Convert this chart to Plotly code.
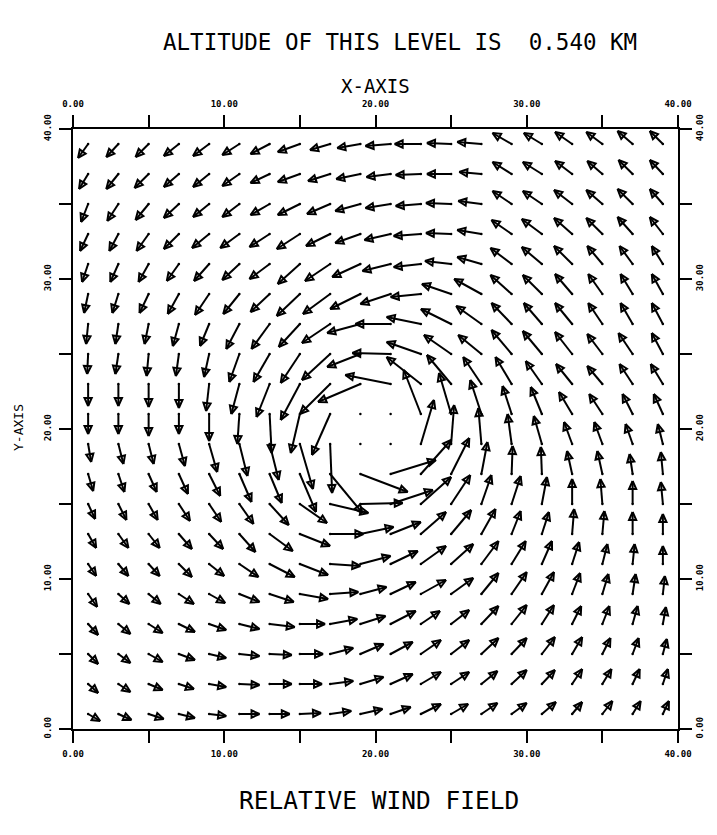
import plotly.graph_objects as go
import math

# ---------------- data ----------------
x_coords = list(range(1, 40, 2))          # grid columns (km)
y_coords = list(range(39, 0, -2))         # grid rows, top to bottom (km)

# u, v wind components (m/s), one list per row (top row first), columns left->right
U = [
    [-10,-12,-13,-15,-16,-17,-19,-22,-20,-23,-25,-26,-24,-24,-19,-18,-17,-16,-15,-13],
    [-9,-12,-14,-15,-16,-17,-19,-22,-22,-24,-24,-25,-24,-22,-19,-19,-17,-15,-14,-13],
    [-7,-11,-13,-15,-16,-17,-19,-22,-23,-25,-25,-25,-25,-23,-19,-19,-18,-16,-15,-13],
    [-8,-9,-12,-15,-17,-19,-20,-23,-24,-25,-26,-27,-25,-24,-20,-20,-18,-16,-15,-13],
    [-6,-8,-10,-12,-15,-17,-20,-22,-25,-28,-28,-27,-26,-24,-21,-20,-18,-15,-13,-11],
    [-4,-6,-9,-11,-14,-16,-19,-23,-27,-30,-30,-30,-29,-27,-21,-19,-17,-14,-12,-11],
    [-2,-3,-4,-6,-9,-13,-18,-21,-28,-33,-35,-34,-30,-25,-20,-18,-17,-14,-12,-11],
    [-1,-3,-2,-3,-5,-10,-16,-19,-28,-33,-38,-34,-27,-23,-20,-19,-17,-15,-14,-11],
    [0,0,0,0,-3,-8,-13,-19,-30,-42,-45,-34,-24,-18,-16,-16,-16,-15,-13,-12],
    [0,0,0,0,0,-2,2,-9,-18,0,0,-17,-12,-11,-9,-11,-13,-13,-10,-9],
    [3,5,5,6,8,8,9,13,2,0,0,13,3,-3,-4,-8,-8,-8,-7,-5],
    [5,6,8,9,11,12,12,16,32,47,45,30,18,6,1,-1,-5,-5,-3,-2],
    [7,8,9,11,12,14,19,27,38,42,42,30,19,10,9,5,0,-2,0,-2],
    [8,10,11,13,14,16,23,30,33,33,30,25,20,14,9,7,2,2,0,0],
    [8,10,11,13,15,19,25,28,30,30,27,25,22,17,14,10,7,5,2,0],
    [9,11,12,15,16,20,24,28,28,26,25,25,22,17,15,12,8,6,3,2],
    [10,12,14,16,17,20,25,25,27,25,25,19,18,17,15,12,9,7,5,3],
    [10,12,14,16,17,20,22,23,23,23,22,20,18,17,15,13,10,8,6,4],
    [10,12,14,15,17,20,22,22,23,23,22,20,18,16,15,13,10,9,7,5],
    [12,13,15,16,17,20,20,21,21,22,20,20,17,16,15,14,10,10,8,6],
]
V = [
    [-14,-13,-13,-12,-12,-11,-10,-8,-6,-4,-2,0,1,2,11,11,12,12,13,13],
    [-15,-15,-14,-13,-13,-12,-9,-8,-7,-5,-3,-1,0,2,12,12,13,13,14,14],
    [-18,-17,-16,-14,-13,-13,-11,-11,-10,-7,-4,-2,1,3,13,13,14,14,15,15],
    [-17,-17,-17,-15,-14,-14,-13,-15,-12,-9,-6,-2,1,4,14,15,16,16,17,17],
    [-18,-18,-18,-17,-17,-16,-15,-20,-17,-13,-7,-3,3,7,16,17,18,18,18,18],
    [-19,-19,-19,-20,-21,-20,-18,-22,-20,-15,-10,-3,10,15,19,19,20,20,20,20],
    [-20,-20,-20,-22,-22,-25,-25,-23,-19,-9,0,7,15,18,21,21,21,21,21,21],
    [-20,-20,-22,-22,-23,-28,-28,-29,-26,-13,1,12,19,19,24,23,22,20,21,21],
    [-22,-22,-23,-24,-27,-30,-33,-36,-30,-18,9,27,29,27,27,23,20,18,20,20],
    [-20,-20,-22,-20,-27,-30,-39,-39,-41,0,0,44,41,34,28,27,22,20,20,20],
    [-18,-20,-20,-22,-28,-32,-36,-45,-49,0,0,44,39,36,30,28,22,22,20,20],
    [-17,-18,-18,-20,-22,-28,-29,-38,-39,-18,14,34,36,32,28,27,23,23,20,22],
    [-15,-16,-16,-17,-18,-20,-21,-19,-9,1,14,27,29,29,28,27,25,25,23,22],
    [-14,-14,-14,-15,-15,-18,-17,-12,0,7,12,22,24,25,23,22,25,23,22,20],
    [-12,-12,-12,-13,-12,-13,-13,-11,-2,8,13,18,20,23,23,23,22,20,20,18],
    [-13,-10,-10,-10,-9,-8,-8,-5,2,7,12,14,16,21,22,22,21,20,20,18],
    [-11,-10,-9,-8,-6,-5,-3,0,5,8,13,13,14,18,19,19,18,18,18,17],
    [-10,-9,-8,-6,-4,-2,-1,0,6,10,12,14,14,16,16,17,17,16,16,15],
    [-9,-8,-6,-5,-3,-1,0,0,3,7,10,12,12,13,14,14,15,15,15,15],
    [-7,-6,-5,-4,-2,0,0,1,3,5,7,10,10,11,11,12,12,13,13,13],
]

tick_vals = [0, 5, 10, 15, 20, 25, 30, 35, 40]
tick_text = ["0.00", "", "10.00", "", "20.00", "", "30.00", "", "40.00"]

title_text = "ALTITUDE OF THIS LEVEL IS  0.540 KM"
x_title = "X-AXIS"
y_title = "Y-AXIS"
bottom_text = "RELATIVE WIND FIELD"

# ---------------- figure geometry (page has an 8px body margin) ----------------
W, H = 701, 819
ML, MT = 65, 121
PW, PH = 605, 600
MR = W - ML - PW
MB = H - MT - PH

VEC_SCALE = 1.0 / 15.0        # km of plot per m/s
PX_X = PW / 40.0              # pixels per km (x)
PX_Y = PH / 40.0              # pixels per km (y)
HEAD_LEN = 8.0                # px
HEAD_HALF = 3.6               # px

lx, ly = [], []
dot_x, dot_y = [], []
for r, yv in enumerate(y_coords):
    for c, xv in enumerate(x_coords):
        u, v = U[r][c], V[r][c]
        dot_x.append(xv); dot_y.append(yv)
        dxp = u * VEC_SCALE * PX_X
        dyp = v * VEC_SCALE * PX_Y
        L = math.hypot(dxp, dyp)
        if L == 0:
            continue
        x1 = xv + u * VEC_SCALE
        y1 = yv + v * VEC_SCALE
        lx += [xv, x1, None]; ly += [yv, y1, None]
        ux, uy = dxp / L, dyp / L
        nx, ny = -uy, ux
        hl = min(HEAD_LEN, 0.6 * L)
        bx = -ux * hl; by = -uy * hl
        p1 = (x1 + (bx + nx * HEAD_HALF) / PX_X, y1 + (by + ny * HEAD_HALF) / PX_Y)
        p2 = (x1 + (bx - nx * HEAD_HALF) / PX_X, y1 + (by - ny * HEAD_HALF) / PX_Y)
        lx += [x1, p1[0], p2[0], x1, None]
        ly += [y1, p1[1], p2[1], y1, None]

fig = go.Figure()
fig.add_trace(go.Scatter(x=lx, y=ly, mode="lines",
                         line=dict(color="black", width=2),
                         hoverinfo="skip", showlegend=False))
fig.add_trace(go.Scatter(x=dot_x, y=dot_y, mode="markers",
                         marker=dict(color="black", size=2.5),
                         hoverinfo="skip", showlegend=False))
fig.add_trace(go.Scatter(x=[0, 40], y=[0, 40], mode="markers",
                         marker=dict(opacity=0), xaxis="x2", yaxis="y2",
                         hoverinfo="skip", showlegend=False))

FONT = "DejaVu Sans Mono"

def axis(side, standoff, angle=0, overlay=None):
    d = dict(range=[0, 40], tickvals=tick_vals, ticktext=tick_text, side=side,
             ticks="outside", ticklen=12, tickwidth=2, tickcolor="black",
             ticklabelstandoff=standoff, tickangle=angle, automargin=False,
             showline=True, linewidth=2, linecolor="black",
             showgrid=False, zeroline=False, fixedrange=True,
             tickfont=dict(family=FONT, size=9, color="black", weight="bold"))
    if overlay:
        d["overlaying"] = overlay
    return d

def ann(text, px, py, size, angle=0):
    return dict(text=text, xref="paper", yref="paper",
                x=(px - 8 - ML) / PW, y=(MT + PH - (py - 8)) / PH,
                xanchor="center", yanchor="middle", showarrow=False,
                textangle=angle, font=dict(family=FONT, size=size, color="black"))

fig.update_layout(
    width=W, height=H,
    margin=dict(l=ML, r=MR, t=MT, b=MB, autoexpand=False),
    paper_bgcolor="white", plot_bgcolor="white",
    xaxis=axis("bottom", 3),
    xaxis2=axis("top", 4, overlay="x"),
    yaxis=axis("left", 4, -90),
    yaxis2=axis("right", 0, -90, overlay="y"),
    annotations=[
        ann(title_text, 400, 42, 22.5),
        ann(x_title, 375, 86, 19),
        ann(y_title, 18, 428, 13, -90),
        ann(bottom_text, 379, 800, 24.5),
    ],
)

fig.write_html("out.html")
